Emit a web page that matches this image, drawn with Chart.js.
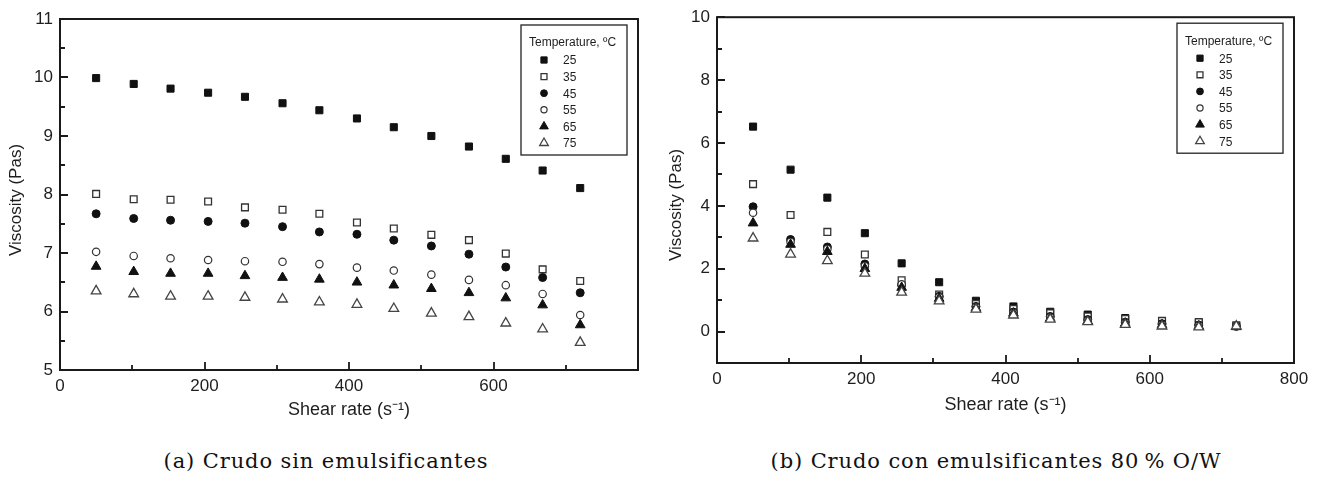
<!DOCTYPE html>
<html>
<head>
<meta charset="utf-8">
<title>Viscosidad del crudo</title>
<script src="https://cdn.jsdelivr.net/npm/chart.js@4.4.1/dist/chart.umd.min.js"></script>
<style>
  body { margin: 0; background: #fff; width: 1320px; height: 479px; position: relative; overflow: hidden; }
  .panel { position: absolute; top: 0; width: 660px; height: 430px; }
  .caption { position: absolute; top: 449px; font-family: 'DejaVu Serif', serif; font-size: 21px; letter-spacing: 0.9px;
             color: #111; transform: translateX(-50%); white-space: nowrap; }
</style>
</head>
<body>
<div class="panel" style="left:0"><canvas id="chartA" width="660" height="430"></canvas></div>
<div class="panel" style="left:660px"><canvas id="chartB" width="660" height="430"></canvas></div>
<div class="caption" style="left:326px">(a) Crudo sin emulsificantes</div>
<div class="caption" style="left:996px">(b) Crudo con emulsificantes 80&#8201;% O/W</div>
<script>
// shear rate (1/s), same for every temperature
const shearRate = [50, 102, 153, 205, 256, 308, 359, 411, 462, 514, 566, 617, 668, 720];
const temperatures = ['25', '35', '45', '55', '65', '75'];

// (a) crude without emulsifiers, viscosity in Pa.s
const viscA25 = [9.99, 9.89, 9.81, 9.74, 9.67, 9.56, 9.44, 9.30, 9.15, 9.00, 8.82, 8.61, 8.41, 8.11];
const viscA35 = [8.01, 7.92, 7.91, 7.88, 7.78, 7.74, 7.67, 7.52, 7.42, 7.31, 7.22, 6.99, 6.72, 6.52];
const viscA45 = [7.67, 7.59, 7.56, 7.54, 7.51, 7.45, 7.36, 7.32, 7.22, 7.12, 6.98, 6.76, 6.58, 6.32];
const viscA55 = [7.02, 6.95, 6.91, 6.88, 6.86, 6.85, 6.81, 6.75, 6.70, 6.63, 6.54, 6.45, 6.30, 5.94];
const viscA65 = [6.77, 6.68, 6.65, 6.65, 6.61, 6.58, 6.55, 6.50, 6.45, 6.39, 6.32, 6.23, 6.11, 5.77];
const viscA75 = [6.35, 6.30, 6.26, 6.26, 6.24, 6.21, 6.16, 6.12, 6.05, 5.97, 5.91, 5.80, 5.70, 5.47];

// (b) crude with emulsifiers, 80 % O/W
const viscB25 = [6.52, 5.15, 4.26, 3.13, 2.17, 1.57, 0.98, 0.80, 0.63, 0.54, 0.43, 0.33, 0.28, 0.18];
const viscB35 = [4.69, 3.71, 3.17, 2.45, 1.63, 1.18, 0.88, 0.72, 0.58, 0.48, 0.40, 0.34, 0.30, 0.20];
const viscB45 = [3.97, 2.93, 2.69, 2.15, 1.48, 1.12, 0.80, 0.62, 0.48, 0.38, 0.30, 0.25, 0.21, 0.17];
const viscB55 = [3.78, 2.85, 2.62, 2.08, 1.50, 1.10, 0.78, 0.60, 0.45, 0.35, 0.28, 0.22, 0.19, 0.16];
const viscB65 = [3.45, 2.77, 2.54, 2.00, 1.40, 1.05, 0.75, 0.58, 0.42, 0.33, 0.26, 0.21, 0.17, 0.15];
const viscB75 = [2.97, 2.46, 2.25, 1.85, 1.25, 0.97, 0.71, 0.52, 0.39, 0.31, 0.22, 0.17, 0.14, 0.17];

// marker per temperature: filled/open square, circle, triangle
const markers = [
  { pointStyle: 'rect',     fill: '#111', stroke: '#111', radius: 5,   width: 1 },
  { pointStyle: 'rect',     fill: '#fff', stroke: '#333', radius: 4.8, width: 1.3 },
  { pointStyle: 'circle',   fill: '#111', stroke: '#111', radius: 4,   width: 1 },
  { pointStyle: 'circle',   fill: '#fff', stroke: '#333', radius: 3.7, width: 1.2 },
  { pointStyle: 'triangle', fill: '#111', stroke: '#111', radius: 5.6, width: 1 },
  { pointStyle: 'triangle', fill: '#fff', stroke: '#444', radius: 5.6, width: 1.3 }
];

const TEXT = '#1e1e1e';
const SANS = "'Liberation Sans', Arial, sans-serif";

function buildDatasets(series) {
  return series.map((vals, i) => ({
    label: temperatures[i],
    data: shearRate.map((x, k) => ({ x: x, y: vals[k] })),
    pointStyle: markers[i].pointStyle,
    pointRadius: markers[i].radius,
    pointHoverRadius: markers[i].radius,
    pointBackgroundColor: markers[i].fill,
    pointBorderColor: markers[i].stroke,
    pointBorderWidth: markers[i].width,
    showLine: false,
    order: series.length - i   // later temperatures drawn on top
  }));
}

// frame, inward ticks, rotated y title and the boxed legend
const framePlugin = {
  id: 'frame',
  afterDatasetsDraw(chart, args, opts) {
    const { ctx, chartArea: a, scales } = chart;
    ctx.save();
    ctx.strokeStyle = '#1a1a1a';
    ctx.lineWidth = 2;
    ctx.strokeRect(a.left, a.top, a.right - a.left, a.bottom - a.top);

    ctx.lineWidth = 1.8;
    ctx.beginPath();
    scales.x.ticks.forEach(t => {
      const px = Math.round(scales.x.getPixelForValue(t.value));
      const len = t.value % opts.xMajor === 0 ? 8 : 5;
      ctx.moveTo(px, a.bottom);
      ctx.lineTo(px, a.bottom - len);
    });
    scales.y.ticks.forEach(t => {
      const py = Math.round(scales.y.getPixelForValue(t.value));
      const len = t.value % opts.yMajor === 0 ? 8 : 5;
      ctx.moveTo(a.left, py);
      ctx.lineTo(a.left + len, py);
    });
    ctx.stroke();

    // y axis title
    ctx.fillStyle = TEXT;
    ctx.font = '17px ' + SANS;
    ctx.textAlign = 'center';
    ctx.textBaseline = 'middle';
    ctx.translate(opts.titleX, opts.titleY);
    ctx.rotate(-Math.PI / 2);
    ctx.fillText('Viscosity (Pas)', 0, 0);
    ctx.setTransform(1, 0, 0, 1, 0, 0);

    // legend box
    const bx = a.right - 117, by = a.top + 6, bw = 106, bh = 130;
    ctx.fillStyle = '#fff';
    ctx.fillRect(bx, by, bw, bh);
    ctx.strokeStyle = '#222';
    ctx.lineWidth = 1.3;
    ctx.strokeRect(bx, by, bw, bh);
    ctx.fillStyle = TEXT;
    ctx.font = '12px ' + SANS;
    ctx.textAlign = 'left';
    ctx.fillText('Temperature, \u00baC', bx + 8, by + 18);
    chart.data.datasets.forEach((ds, i) => {
      const y = by + 35 + i * 16.6;
      const m = markers[i];
      ctx.fillStyle = m.fill;
      ctx.strokeStyle = m.stroke;
      ctx.lineWidth = m.width;
      Chart.helpers.drawPoint(ctx, { pointStyle: m.pointStyle, radius: m.radius - 0.6, rotation: 0, borderWidth: m.width }, bx + 23, y);
      ctx.fillStyle = TEXT;
      ctx.fillText(ds.label, bx + 42, y + 1);
    });
    ctx.restore();
  }
};

function makeChart(id, series, cfg) {
  return new Chart(document.getElementById(id), {
    type: 'scatter',
    data: { datasets: buildDatasets(series) },
    options: {
      responsive: false,
      animation: false,
      events: [],
      layout: { padding: cfg.padding },
      plugins: {
        legend: { display: false },
        tooltip: { enabled: false },
        frame: cfg.frame
      },
      scales: {
        x: {
          type: 'linear',
          min: 0, max: 800,
          grid: { display: false, drawTicks: false },
          border: { display: false },
          afterFit: s => { s.height = cfg.xHeight; },
          ticks: {
            stepSize: 100, autoSkip: false, maxRotation: 0, padding: 6,
            color: TEXT, font: { family: SANS, size: 17 },
            callback: cfg.xLabel
          },
          title: {
            display: true, text: 'Shear rate (s\u207b\u00b9)', color: TEXT,
            font: { family: SANS, size: 18 }, padding: { top: 0, bottom: cfg.xTitlePad }
          }
        },
        y: {
          type: 'linear',
          min: cfg.yMin, max: cfg.yMax,
          grid: { display: false, drawTicks: false },
          border: { display: false },
          afterFit: s => { s.width = cfg.yWidth; },
          ticks: {
            stepSize: cfg.yStep, autoSkip: false, padding: 7,
            color: TEXT, font: { family: SANS, size: 17 },
            callback: cfg.yLabel
          }
        }
      }
    },
    plugins: [framePlugin]
  });
}

makeChart('chartA', [viscA25, viscA35, viscA45, viscA55, viscA65, viscA75], {
  padding: { top: 19, right: 22, left: 0, bottom: 0 },
  xHeight: 60, yWidth: 60, xTitlePad: 9,
  yMin: 5, yMax: 11, yStep: 0.5,
  xLabel: v => (v % 200 === 0 && v < 800) ? v : '',
  yLabel: v => Number.isInteger(v) ? v : '',
  frame: { xMajor: 200, yMajor: 1, titleX: 16, titleY: 200 }
});

makeChart('chartB', [viscB25, viscB35, viscB45, viscB55, viscB65, viscB75], {
  padding: { top: 13, right: 26, left: 0, bottom: 0 },
  xHeight: 67, yWidth: 57, xTitlePad: 14,
  yMin: -1, yMax: 10, yStep: 1,
  xLabel: v => v % 200 === 0 ? v : '',
  yLabel: v => v % 2 === 0 ? v : '',
  frame: { xMajor: 200, yMajor: 2, titleX: 16, titleY: 205 }
});
</script>
</body>
</html>
